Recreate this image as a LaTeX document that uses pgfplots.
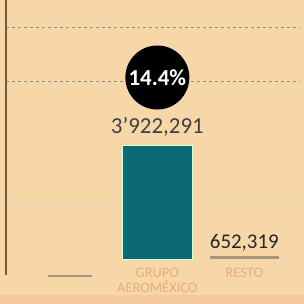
\documentclass[border=0pt]{standalone}
\usepackage{pgfplots}
\pgfplotsset{compat=1.18}
\usepackage{fontspec}
\setmainfont{Carlito}
\definecolor{bg}{HTML}{F7D7A8}
\definecolor{strip}{HTML}{F5C89E}
\definecolor{teal}{HTML}{0C6A76}
\definecolor{resto}{HTML}{A8957E}
\definecolor{lbl}{HTML}{E6AE78}
\definecolor{axbrown}{HTML}{7A5A42}
\begin{document}
\begin{tikzpicture}
\useasboundingbox (0,0) rectangle (304bp,304bp);
\fill[bg] (0,0) rectangle (304bp,304bp);
\fill[strip] (0,0) rectangle (304bp,9bp);
\begin{axis}[
  at={(6bp,45bp)}, anchor=south west,
  scale only axis, width=294bp, height=259bp,
  xmin=-0.74, xmax=2.64,
  ymin=570000, ymax=8186154,
  axis lines=left, axis line style={draw=none},
  ybar, bar width=0.8,
  xtick=\empty,
  ytick={5804268,7392192},
  yticklabels={},
  major tick length=0pt,
  ymajorgrids,
  grid style={dashed, color=black!45, line width=0.5pt},
  extra y ticks={2157924},
  extra y tick labels={},
  extra y tick style={grid style={dashed, color=black!15, line width=0.5pt}},
  clip=false,
  nodes near coords,
  point meta=explicit symbolic,
]
\addplot[fill=teal, draw=white!85!green, line width=0.8pt, bar shift=0pt,
  nodes near coords style={font=\fontsize{23}{23}\selectfont, text=black!75, anchor=south, yshift=5bp}]
  coordinates {(1,3922291) [3'922,291]};
\addplot[fill=resto, draw=none, bar shift=0pt,
  nodes near coords style={font=\fontsize{21}{21}\selectfont, text=black!85, anchor=south, yshift=2bp}]
  coordinates {(2,652319) [652,319]};
\node[circle, fill=black, minimum size=64bp, inner sep=0pt, text=white,
  font=\fontsize{23}{23}\selectfont\bfseries] at (axis cs:1,5907000) {14.4\%};
\node[text=lbl, font=\fontsize{14.5}{15}\selectfont, align=center, anchor=north, inner sep=0pt] at (axis cs:1,570000) [yshift=-9bp] {GRUPO\\AEROMÉXICO};
\node[text=lbl, font=\fontsize{14.5}{15}\selectfont, anchor=north, inner sep=0pt] at (axis cs:2,570000) [yshift=-9bp] {RESTO};
\end{axis}
\draw[resto, line width=1.2pt] (48bp,28bp) -- (92bp,28bp);
\draw[axbrown, line width=1.5pt] (6bp,304bp) -- (6bp,29bp);
\end{tikzpicture}
\end{document}
